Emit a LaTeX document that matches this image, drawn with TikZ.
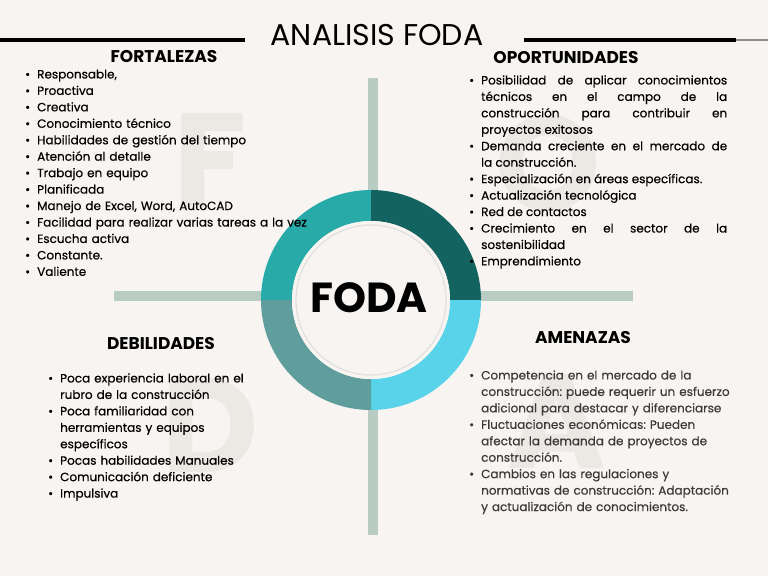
\documentclass[tikz,border=0pt]{standalone}
\usepackage{fontspec}
\setmainfont{Poppins}
\newfontfamily\textolista{Poppins}[FakeBold=0.4]
\usetikzlibrary{positioning}
\definecolor{fondo}{RGB}{247,244,241}
\definecolor{letrafondo}{RGB}{236,233,228}
\definecolor{cruzverde}{RGB}{185,204,196}
\definecolor{tealclaro}{RGB}{39,170,168}
\definecolor{tealoscuro}{RGB}{19,99,96}
\definecolor{cianclaro}{RGB}{88,211,233}
\definecolor{tealgris}{RGB}{95,158,157}
\definecolor{textogris}{RGB}{58,58,58}
\frenchspacing
\newcommand{\vin}{\par\noindent\hangindent=12pt\hangafter=1\makebox[12pt][l]{\textbullet}}
\tikzset{
  titulo/.style={
    inner sep=0pt,
    anchor=base,
    font=\fontsize{30}{30}\selectfont
  },
  encabezado/.style={
    inner sep=0pt,
    anchor=base,
    font=\bfseries\fontsize{17}{18}\selectfont
  },
  lista/.style={
    inner sep=0pt,
    anchor=base west,
    align=left,
    font=\textolista\fontsize{12}{16.45}\selectfont
  },
  letra/.style={
    inner sep=0pt,
    text=letrafondo,
    font=\bfseries\fontsize{134}{134}\selectfont
  },
  barra/.style={
    cruzverde,
    line width=10.5pt
  }
}

\begin{document}
\begin{tikzpicture}[x=1pt,y=-1pt]
\fill[fondo] (0,0) rectangle (768,576);
\useasboundingbox (0,0) rectangle (768,576);

% letras de fondo
\node[letra] (letraF) at (210,160) {F};
\node[letra] (letraO) at (548,163) {O};
\node[letra] (letraD) at (210,425) {D};
\node[letra] (letraA) at (557,421) {A};

% cruz
\draw[barra] (373,78) -- (373,535);
\draw[barra] (114,296) -- (633,296);

% titulo
\node[titulo] (titulo) at (377,45) {ANALISIS FODA};
\draw[line width=4pt] (0,40) -- (245,40);
\draw[line width=4pt] (524,40) -- (736,40);
\draw[line width=1.5pt, black!45] (736,40) -- (768,40);

% anillo
\coordinate (centro) at (371,300);
\foreach \a/\col in {180/tealclaro, 270/tealoscuro, 0/cianclaro, 90/tealgris}
  \fill[\col] (centro) ++(\a:110) arc[start angle=\a, end angle=\a+90, radius=110]
    -- ++({\a+90}:-31) arc[start angle=\a+90, end angle=\a, radius=79] -- cycle;
\fill[fondo] (centro) circle[radius=79];
\draw[black!12, line width=1.2pt] (centro) circle[radius=75];
\node[inner sep=0pt, anchor=base, font=\bfseries\fontsize{42}{42}\selectfont] (foda) at (369,312) {FODA};

% encabezados
\node[encabezado] (fortalezas) at (164,62) {FORTALEZAS};
\node[encabezado] (oportunidades) at (566,63) {OPORTUNIDADES};
\node[encabezado] (debilidades) at (161,349) {DEBILIDADES};
\node[encabezado] (amenazas) at (583,343) {AMENAZAS};

% listas
\node[lista, text width=320pt] (listaF) at (25,62) {%
\vin Responsable,
\vin Proactiva
\vin Creativa
\vin Conocimiento técnico
\vin Habilidades de gestión del tiempo
\vin Atención al detalle
\vin Trabajo en equipo
\vin Planificada
\vin Manejo de Excel, Word, AutoCAD
\vin Facilidad para realizar varias tareas a la vez
\vin Escucha activa
\vin Constante.
\vin Valiente\par};

\node[lista, align=justify, text width=258pt] (listaO) at (469,68) {%
\vin Posibilidad de aplicar conocimientos\linebreak técnicos en el campo de la\linebreak construcción para contribuir en\linebreak proyectos exitosos
\vin Demanda creciente en el mercado de\linebreak la construcción.
\vin Especialización en áreas específicas.
\vin Actualización tecnológica
\vin Red de contactos
\vin Crecimiento en el sector de la\linebreak sostenibilidad
\vin Emprendimiento\par};

\node[lista, text width=220pt] (listaD) at (48,366) {%
\vin Poca experiencia laboral en el\newline rubro de la construcción
\vin Poca familiaridad con\newline herramientas y equipos\newline específicos
\vin Pocas habilidades Manuales
\vin Comunicación deficiente
\vin Impulsiva\par};

\node[lista, text=textogris, text width=290pt] (listaA) at (469,363) {%
\vin Competencia en el mercado de la\newline construcción: puede requerir un esfuerzo\newline adicional para destacar y diferenciarse
\vin Fluctuaciones económicas: Pueden\newline afectar la demanda de proyectos de\newline construcción.
\vin Cambios en las regulaciones y\newline normativas de construcción: Adaptación\newline y actualización de conocimientos.\par};
\end{tikzpicture}
\end{document}
